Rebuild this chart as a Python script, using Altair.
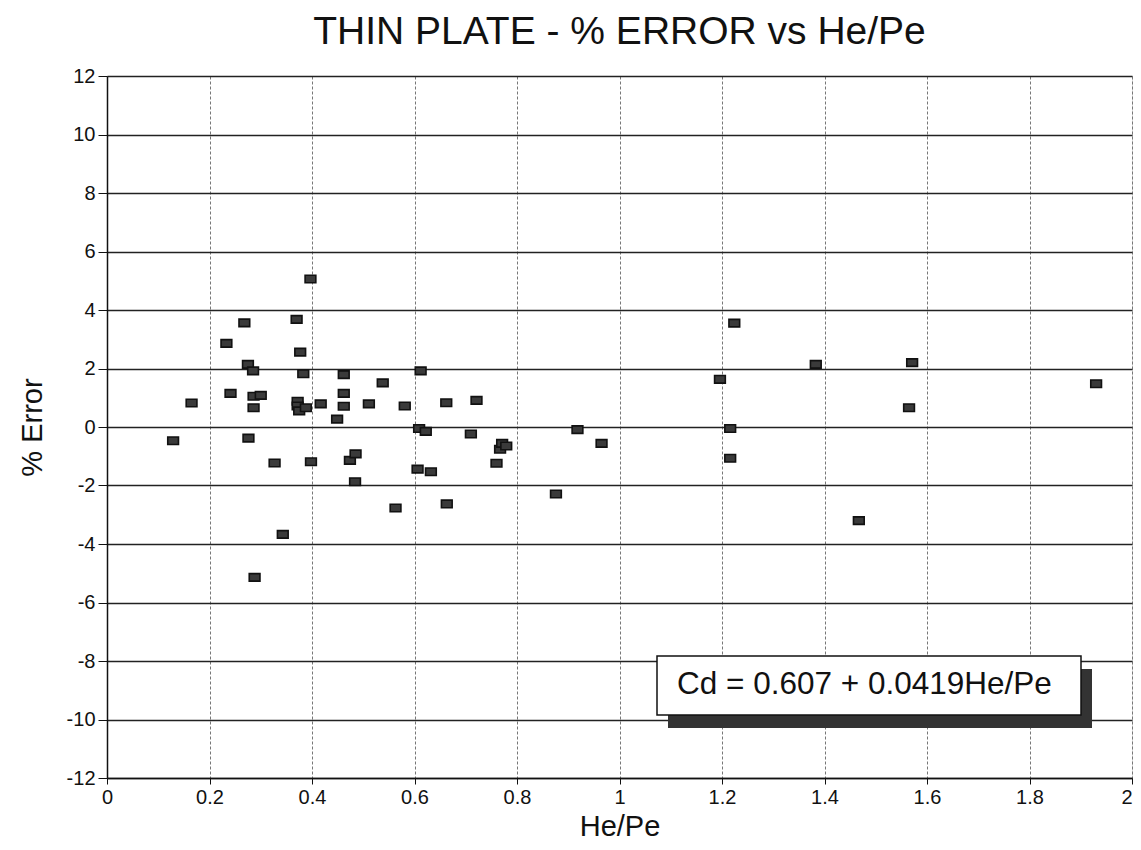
import altair as alt
import pandas as pd

he_pe = [0.129, 0.165, 0.233, 0.241, 0.268, 0.275, 0.276, 0.285, 0.286, 0.300,
         0.286, 0.288, 0.327, 0.343, 0.370, 0.372, 0.372, 0.375, 0.377, 0.383,
         0.388, 0.397, 0.398, 0.417, 0.449, 0.462, 0.462, 0.462, 0.474, 0.485,
         0.484, 0.511, 0.538, 0.563, 0.581, 0.606, 0.609, 0.612, 0.622, 0.632,
         0.662, 0.663, 0.710, 0.721, 0.760, 0.767, 0.771, 0.779, 0.876, 0.918,
         0.965, 1.196, 1.216, 1.216, 1.224, 1.383, 1.467, 1.565, 1.571, 1.930]
pct_error = [-0.47, 0.82, 2.86, 1.15, 3.56, 2.14, -0.38, 1.92, 1.05, 1.08,
             0.66, -5.14, -1.23, -3.67, 3.68, 0.88, 0.72, 0.55, 2.56, 1.82,
             0.66, 5.06, -1.19, 0.79, 0.27, 1.79, 1.15, 0.71, -1.14, -0.92,
             -1.87, 0.79, 1.51, -2.77, 0.72, -1.44, -0.05, 1.92, -0.15, -1.53,
             0.83, -2.63, -0.24, 0.91, -1.24, -0.76, -0.56, -0.65, -2.29, -0.09,
             -0.56, 1.63, -0.05, -1.07, 3.55, 2.14, -3.20, 0.66, 2.20, 1.48]

x_ticks = [0, 0.2, 0.4, 0.6, 0.8, 1, 1.2, 1.4, 1.6, 1.8, 2]
y_ticks = [-12, -10, -8, -6, -4, -2, 0, 2, 4, 6, 8, 10, 12]
equation = "Cd = 0.607 + 0.0419He/Pe"

df = pd.DataFrame({"x": he_pe, "y": pct_error})
FONT = "Liberation Sans"

xscale = alt.Scale(domain=[0, 2], nice=False, zero=False)
yscale = alt.Scale(domain=[-12, 12], nice=False, zero=False)

pts = alt.Chart(df).mark_point(
    shape="M-1,-0.7L1,-0.7L1,0.7L-1,0.7Z",
    filled=True, fill="#3a3a3a", stroke="#111", strokeWidth=1.6, size=115, opacity=1
).encode(
    x=alt.X("x:Q", scale=xscale, title="He/Pe",
            axis=alt.Axis(values=x_ticks, labelExpr="'' + datum.value",
                          labelAlign=alt.condition("datum.value >= 2", alt.value("right"), alt.value("center")),
                          grid=True, gridColor="#777", gridDash=[3, 2], gridWidth=1,
                          domainColor="#111", domainWidth=1.5, tickColor="#111",
                          tickSize=6, labelPadding=3, labelFontSize=20,
                          labelFont=FONT, labelColor="#111", titleFont=FONT,
                          titleFontSize=29, titleFontWeight="normal",
                          titleColor="#111", titlePadding=5, labelFlush=False)),
    y=alt.Y("y:Q", scale=yscale, title="% Error",
            axis=alt.Axis(values=y_ticks, labelExpr="'' + datum.value",
                          grid=True, gridColor="#222", gridWidth=1.5,
                          domainColor="#111", domainWidth=1.5, tickColor="#111",
                          tickSize=9, labelPadding=3, labelFontSize=20,
                          labelFont=FONT, labelColor="#111", titleFont=FONT,
                          titleFontSize=29, titleFontWeight="normal",
                          titleColor="#111", titlePadding=19, labelFlush=False)),
)

shadow = alt.Chart().mark_rect(color="#333").encode(
    x=alt.value(561), x2=alt.value(985), y=alt.value(593), y2=alt.value(652))
box = alt.Chart().mark_rect(fill="white", stroke="#111", strokeWidth=1.5).encode(
    x=alt.value(550), x2=alt.value(974), y=alt.value(580), y2=alt.value(639))
txt = alt.Chart().mark_text(align="left", baseline="middle", font=FONT,
                            fontSize=31.5, color="#111", text=equation).encode(
    x=alt.value(570), y=alt.value(609))

chart = alt.layer(pts, shadow, box, txt).properties(
    width=1025, height=702,
    title=alt.TitleParams("THIN PLATE - % ERROR vs He/Pe", font=FONT, fontSize=39,
                          fontWeight="normal", color="#111", anchor="middle", offset=14),
    autosize=alt.AutoSizeParams(type="none"),
    padding={"left": 99, "top": 68, "right": 1, "bottom": 62},
).configure_view(stroke=None).configure(background="white")

chart.save("out.html", embed_options={"renderer": "svg", "actions": False})
